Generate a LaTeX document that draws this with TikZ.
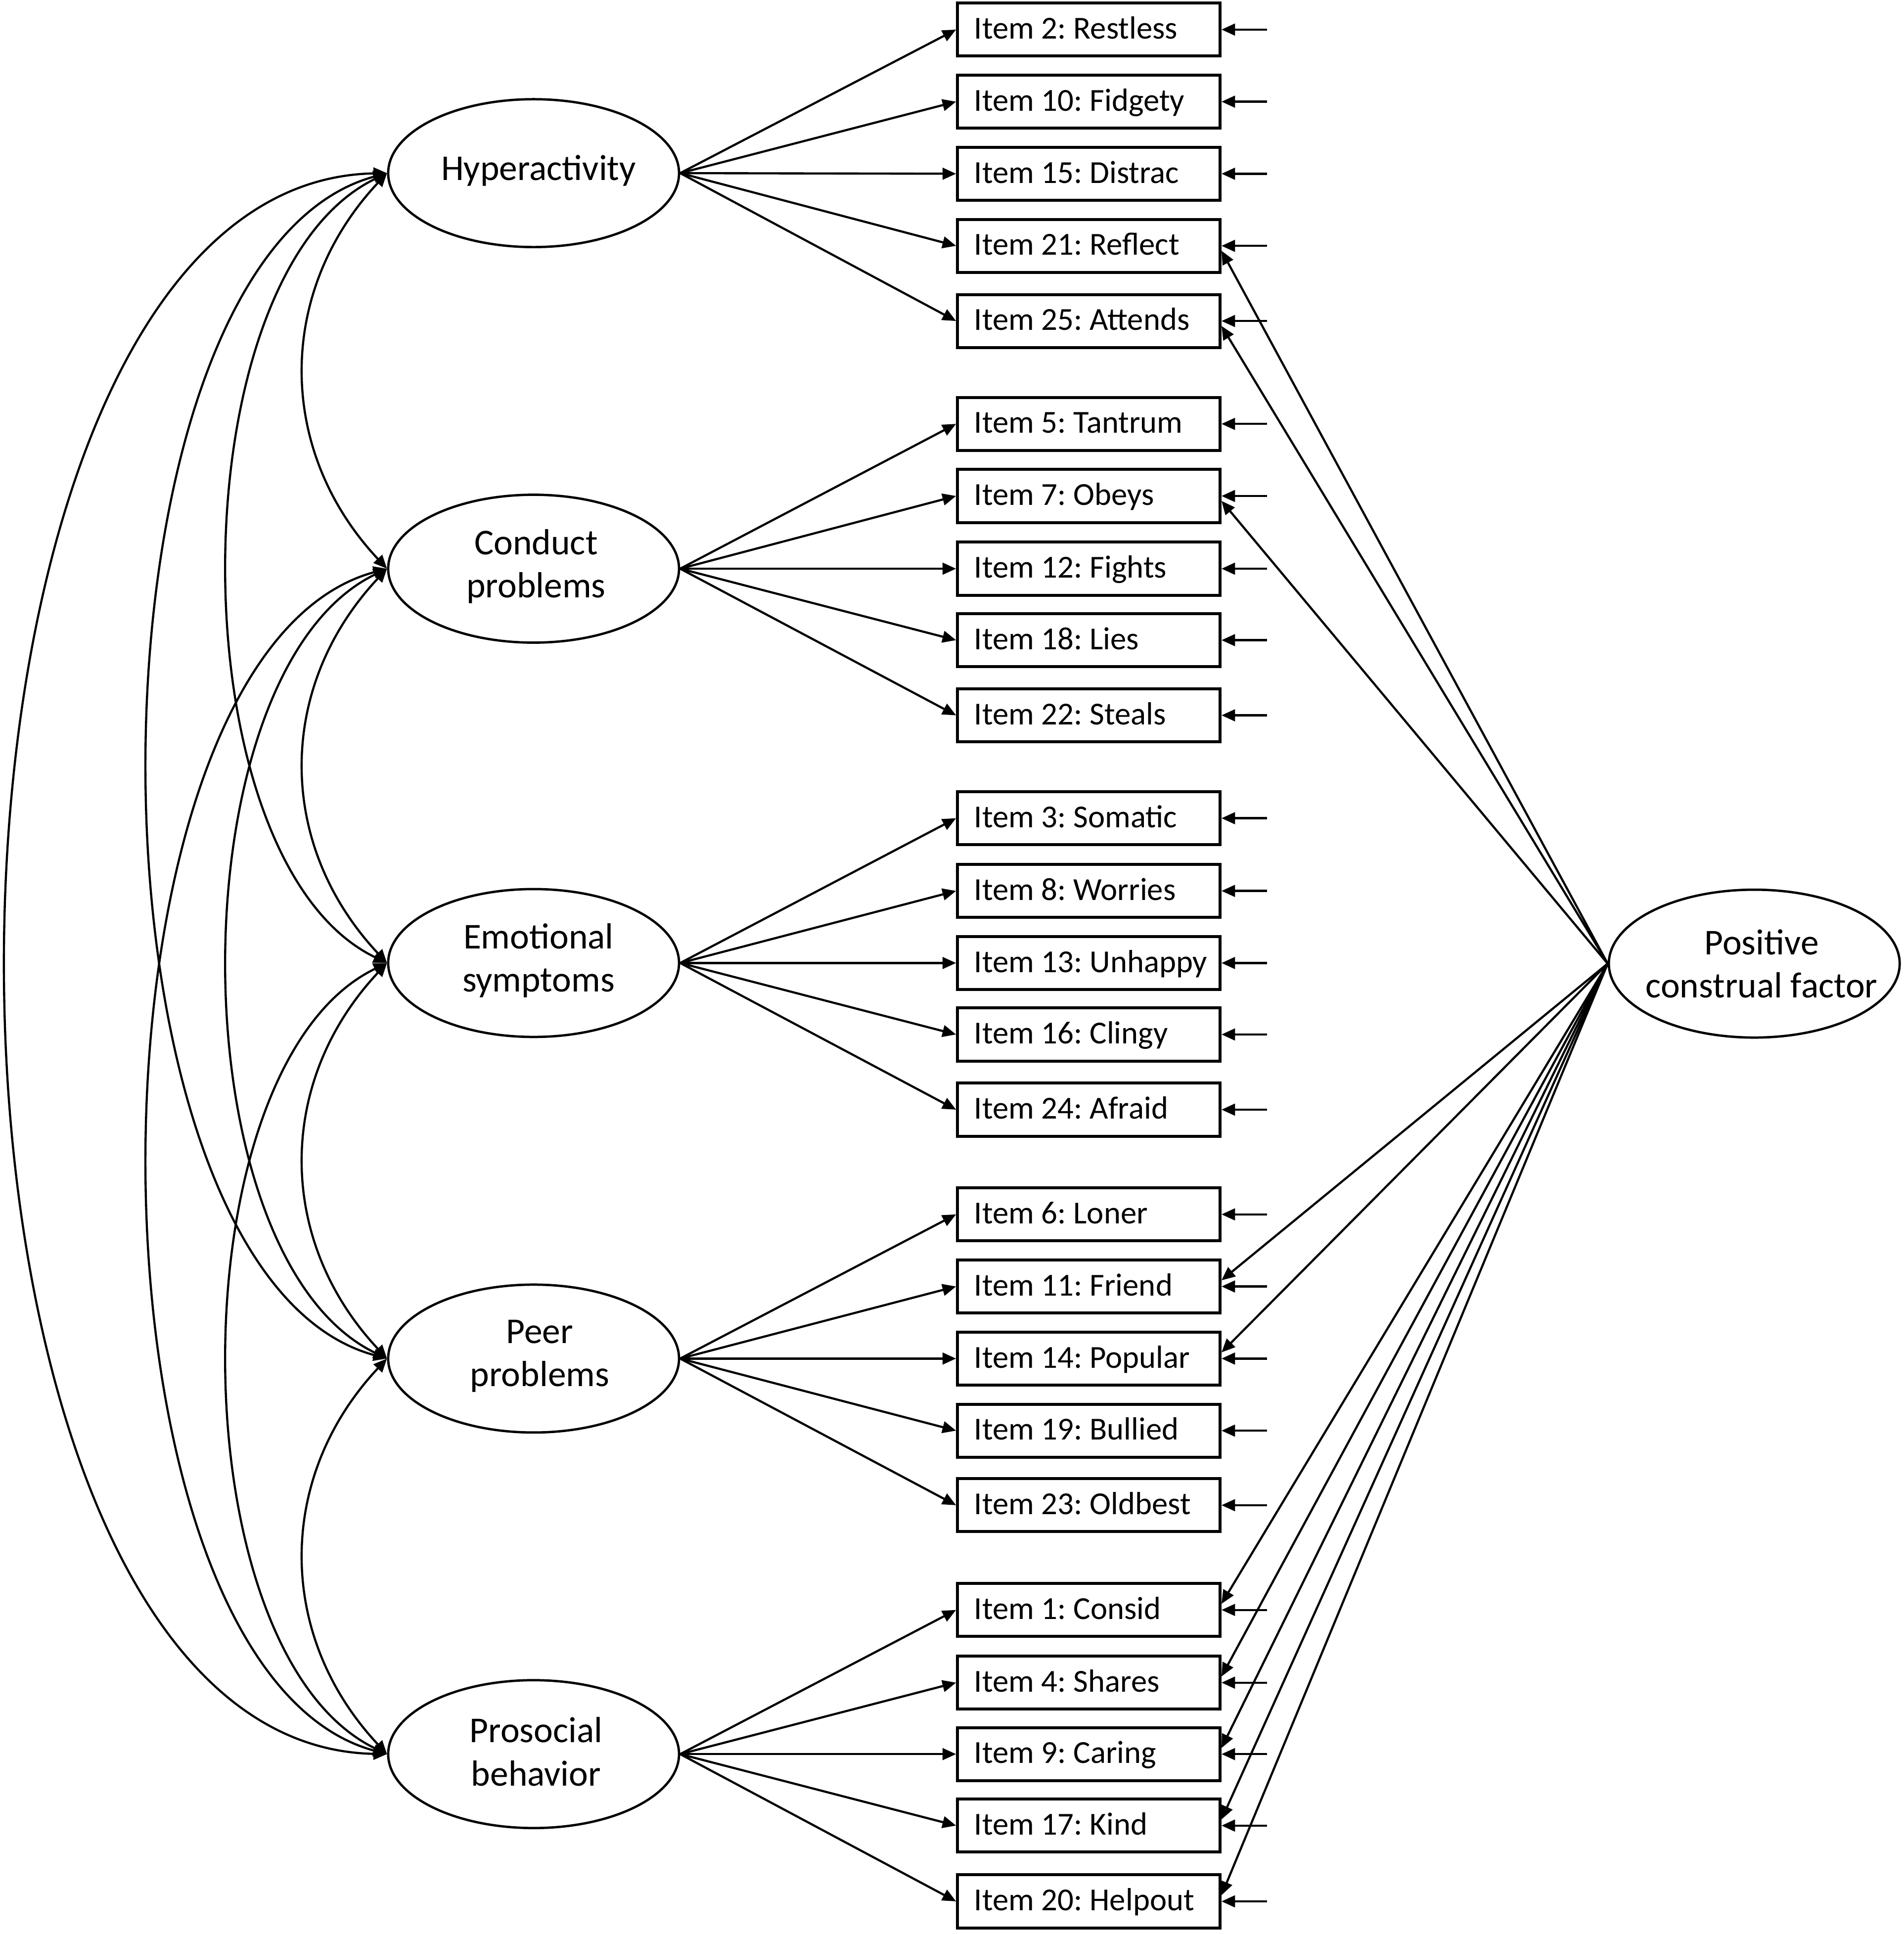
\documentclass[tikz,border=0pt]{standalone}
\usepackage{fontspec}
\setmainfont{Carlito}
\usetikzlibrary{arrows.meta,shapes.geometric}
\newcommand\itemtxt[1]{\makebox[191pt][l]{\hspace{2.5pt}#1}}
\begin{document}
\frenchspacing
\begin{tikzpicture}[x=1pt,y=-1pt,
  itembox/.style={draw, line width=2.4pt, minimum width=213pt, minimum height=43pt,
    inner xsep=11pt, inner ysep=0pt,
    text height=20pt, text depth=5pt, font=\fontsize{26}{31}\selectfont},
  lat/.style={draw, ellipse, line width=1.9pt, minimum width=236pt, minimum height=120pt, inner sep=0pt},
  lattext/.style={align=center, inner sep=0pt, font=\fontsize{29.5}{35}\selectfont},
  tip/.tip={Triangle[length=11pt,width=9.5pt]},
  arr/.style={line width=1.75pt, -tip},
  cov/.style={line width=1.75pt, tip-tip},
]
\useasboundingbox (0,0) rectangle (1545,1569.5);

% latent factors
\node[lat] (H) at (433,140.5) {};
\node[lattext] (Ht) at ([xshift=4pt,yshift=2pt]H.center) {Hyperactivity};
\node[lat] (C) at (433,461.5) {};
\node[lattext] (Ct) at ([xshift=2pt,yshift=2pt]C.center) {Conduct\\problems};
\node[lat] (E) at (433,781.5) {};
\node[lattext] (Et) at ([xshift=4pt,yshift=2pt]E.center) {Emotional\\symptoms};
\node[lat] (P) at (433,1102.5) {};
\node[lattext] (Pt) at ([xshift=5pt,yshift=2pt]P.center) {Peer\\problems};
\node[lat] (S) at (433,1423.5) {};
\node[lattext] (St) at ([xshift=2pt,yshift=2pt]S.center) {Prosocial\\behavior};
\node[lat] (F) at (1423.5,782) {};
\node[lattext] (Ft) at ([xshift=6pt]F.center) {Positive\\construal factor};

% items
\node[itembox] (i2)  at (883.5,24)    {\itemtxt{Item 2: Restless}};
\node[itembox] (i10) at (883.5,82.5)  {\itemtxt{Item 10: Fidgety}};
\node[itembox] (i15) at (883.5,141)   {\itemtxt{Item 15: Distrac}};
\node[itembox] (i21) at (883.5,199.5) {\itemtxt{Item 21: Reflect}};
\node[itembox] (i25) at (883.5,260.5) {\itemtxt{Item 25: Attends}};
\node[itembox] (i5)  at (883.5,344)   {\itemtxt{Item 5: Tantrum}};
\node[itembox] (i7)  at (883.5,402.5) {\itemtxt{Item 7: Obeys}};
\node[itembox] (i12) at (883.5,461.5) {\itemtxt{Item 12: Fights}};
\node[itembox] (i18) at (883.5,519.5) {\itemtxt{Item 18: Lies}};
\node[itembox] (i22) at (883.5,580.5) {\itemtxt{Item 22: Steals}};
\node[itembox] (i3)  at (883.5,664)   {\itemtxt{Item 3: Somatic}};
\node[itembox] (i8)  at (883.5,723)   {\itemtxt{Item 8: Worries}};
\node[itembox] (i13) at (883.5,781.5) {\itemtxt{Item 13: Unhappy}};
\node[itembox] (i16) at (883.5,839.5) {\itemtxt{Item 16: Clingy}};
\node[itembox] (i24) at (883.5,900.5) {\itemtxt{Item 24: Afraid}};
\node[itembox] (i6)  at (883.5,985.5) {\itemtxt{Item 6: Loner}};
\node[itembox] (i11) at (883.5,1044)  {\itemtxt{Item 11: Friend}};
\node[itembox] (i14) at (883.5,1102.5){\itemtxt{Item 14: Popular}};
\node[itembox] (i19) at (883.5,1161)  {\itemtxt{Item 19: Bullied}};
\node[itembox] (i23) at (883.5,1221.5){\itemtxt{Item 23: Oldbest}};
\node[itembox] (i1)  at (883.5,1306.5){\itemtxt{Item 1: Consid}};
\node[itembox] (i4)  at (883.5,1365.5){\itemtxt{Item 4: Shares}};
\node[itembox] (i9)  at (883.5,1423.5){\itemtxt{Item 9: Caring}};
\node[itembox] (i17) at (883.5,1481.5){\itemtxt{Item 17: Kind}};
\node[itembox] (i20) at (883.5,1543)  {\itemtxt{Item 20: Helpout}};

% loadings
\foreach \i in {2,10,15,21,25} \draw[arr] (H.east) -- (i\i.west);
\foreach \i in {5,7,12,18,22} \draw[arr] (C.east) -- (i\i.west);
\foreach \i in {3,8,13,16,24} \draw[arr] (E.east) -- (i\i.west);
\foreach \i in {6,11,14,19,23} \draw[arr] (P.east) -- (i\i.west);
\foreach \i in {1,4,9,17,20} \draw[arr] (S.east) -- (i\i.west);

% error terms
\foreach \i in {2,10,15,21,25,5,7,12,18,22,3,8,13,16,24,6,11,14,19,23,1,4,9,17,20}{
  \coordinate (e\i) at ([xshift=37pt]i\i.east);
  \draw[arr] (e\i) -- (i\i.east);
}

% positive construal factor
\foreach \i in {21,25,7} \draw[arr] (F.west) -- ([yshift=-4pt]i\i.east);
\foreach \i in {11,14,1,4,9,17,20} \draw[arr] (F.west) -- ([yshift=5pt]i\i.east);

% covariances
\draw[cov] (H.west) .. controls +(-90,96) and +(-90,-96) .. (C.west);
\draw[cov] (C.west) .. controls +(-90,96) and +(-90,-96) .. (E.west);
\draw[cov] (E.west) .. controls +(-90,96) and +(-90,-96) .. (P.west);
\draw[cov] (P.west) .. controls +(-90,96) and +(-90,-96) .. (S.west);
\draw[cov] (H.west) .. controls +(-172,83) and +(-172,-83) .. (E.west);
\draw[cov] (C.west) .. controls +(-172,83) and +(-172,-83) .. (P.west);
\draw[cov] (E.west) .. controls +(-172,83) and +(-172,-83) .. (S.west);
\draw[cov] (H.west) .. controls +(-258,70) and +(-258,-70) .. (P.west);
\draw[cov] (C.west) .. controls +(-258,70) and +(-258,-70) .. (S.west);
\draw[cov] (H.west) .. controls +(-411,8) and +(-411,-8) .. (S.west);
\end{tikzpicture}
\end{document}
